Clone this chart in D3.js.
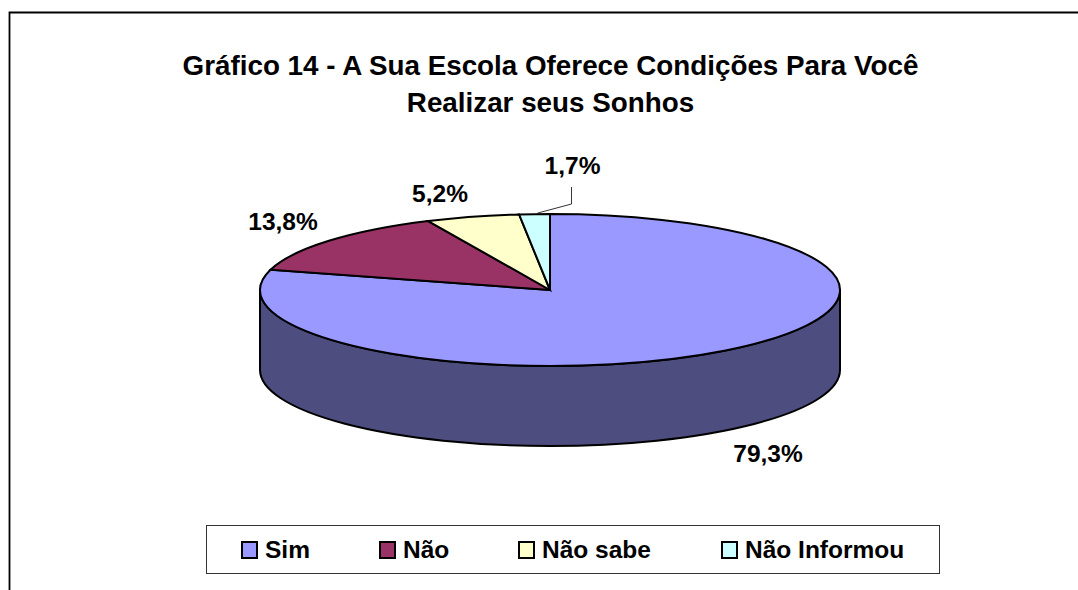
<!DOCTYPE html>
<html><head><meta charset="utf-8">
<script src="https://cdn.jsdelivr.net/npm/d3@7"></script>
<style>html,body{margin:0;padding:0;background:#fff}svg{display:block}text{font-family:"Liberation Sans",Arial,sans-serif;font-weight:bold;fill:#000}</style>
</head><body><script>
const categories=["Sim","Não","Não sabe","Não Informou"];
const values=[79.3,13.8,5.2,1.7];
const valueLabels=["79,3%","13,8%","5,2%","1,7%"];
const colors=["#9999ff","#993366","#ffffcc","#ccffff"];
const sideColors=["#4d4d80"];
const titleLines=["Gráfico 14 - A Sua Escola Oferece Condições Para Você","Realizar seus Sonhos"];
const labelPos=[[768,453.5],[283,221.5],[440,194],[572.5,166]];
const legendX=[241,379,518,721];

const W=1078,H=590,cx=550,cy=290,rx=290,ry=76,depth=80;
const svg=d3.select("body").append("svg").attr("width",W).attr("height",H);
svg.append("path").attr("d",`M9.5,${H}V12.5H${W}`).attr("fill","none").attr("stroke","#000").attr("stroke-width",1.8);

svg.selectAll("text.t").data(titleLines).join("text").attr("class","t")
 .attr("x",550.5).attr("y",(d,i)=>75+i*37).attr("text-anchor","middle").attr("font-size",27.8).text(d=>d);

const arcs=d3.pie().sort(null)(values);
const pt=(a,dy=0)=>[cx+rx*Math.sin(a),cy-ry*Math.cos(a)+dy];
svg.append("path")
 .attr("d",`M${cx-rx},${cy}A${rx},${ry} 0 0 0 ${cx+rx},${cy}V${cy+depth}A${rx},${ry} 0 0 1 ${cx-rx},${cy+depth}Z`)
 .attr("fill",sideColors[0]).attr("stroke","#000").attr("stroke-width",2);

const arc=d3.arc().innerRadius(0).outerRadius(rx);
const g=svg.append("g").attr("transform",`translate(${cx},${cy}) scale(1,${ry/rx})`);
g.selectAll("path").data(arcs).join("path").attr("d",arc)
 .attr("fill",(d,i)=>colors[i]).attr("stroke","#000").attr("stroke-width",2)
 .attr("stroke-linejoin","miter").attr("vector-effect","non-scaling-stroke");

// leader line for the smallest slice
const last=arcs[3],mid=(last.startAngle+last.endAngle)/2,[lx,ly]=pt(mid);
svg.append("path").attr("d",`M${lx+3},${ly-1}L${lx+37},204V187`).attr("fill","none").attr("stroke","#000").attr("stroke-width",0.8);

svg.selectAll("text.v").data(valueLabels).join("text").attr("class","v")
 .attr("x",(d,i)=>labelPos[i][0]).attr("y",(d,i)=>labelPos[i][1]+8)
 .attr("text-anchor","middle").attr("font-size",24.5).text(d=>d);

svg.append("rect").attr("x",206.5).attr("y",525.5).attr("width",733).attr("height",48)
 .attr("fill","#fff").attr("stroke","#333").attr("stroke-width",1);
const lg=svg.selectAll("g.l").data(categories).join("g").attr("class","l").attr("transform",(d,i)=>`translate(${legendX[i]},0)`);
lg.append("rect").attr("x",1).attr("y",542).attr("width",15).attr("height",16)
 .attr("fill",(d,i)=>colors[i]).attr("stroke","#000").attr("stroke-width",2);
lg.append("text").attr("x",24).attr("y",558).attr("font-size",24.5).text(d=>d);
</script></body></html>
